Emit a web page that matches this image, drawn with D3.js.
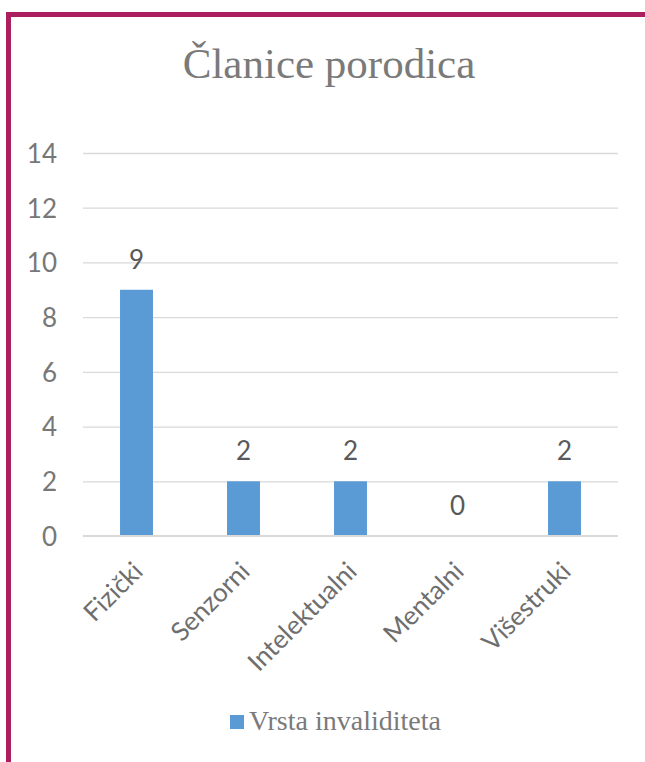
<!DOCTYPE html>
<html>
<head>
<meta charset="utf-8">
<script src="https://cdn.jsdelivr.net/npm/d3@7"></script>
<style>
  html, body { margin: 0; padding: 0; background: #fff; }
  svg { display: block; }
</style>
</head>
<body>
<svg id="chart" width="645" height="762"></svg>
<script>
const title = "Članice porodica";
const categories = ["Fizički", "Senzorni", "Intelektualni", "Mentalni", "Višestruki"];
const values = [9, 2, 2, 0, 2];
const seriesName = "Vrsta invaliditeta";
const yTicks = [0, 2, 4, 6, 8, 10, 12, 14];

const svg = d3.select("#chart");
const W = 645, H = 762;
const plot = { left: 83, right: 618, top: 153, bottom: 536 };
const sans = "Lato, 'Open Sans', sans-serif";
const serif = "'Liberation Serif', 'Times New Roman', serif";

svg.append("rect").attr("width", W).attr("height", H).attr("fill", "#fff");

// border (left + top)
svg.append("path")
  .attr("d", `M8.5,${H} L8.5,14.4 L${W + 5},14.4`)
  .attr("fill", "none").attr("stroke", "#ab1f5f").attr("stroke-width", 5);

const x = d3.scaleBand().domain(categories).range([plot.left, plot.right])
  .paddingInner(0.692).paddingOuter(0.346);
const y = d3.scaleLinear().domain([0, 14]).range([plot.bottom, plot.top]);

// gridlines
const grid = svg.append("g").attr("transform", `translate(${plot.left},0)`)
  .call(d3.axisLeft(y).tickValues(yTicks.filter(d => d > 0)).tickSize(-(plot.right - plot.left)).tickFormat(""));
grid.select(".domain").remove();
grid.selectAll("line").attr("stroke", "#d9d9d9").attr("stroke-width", 1.3);

// tick labels
const yax = svg.append("g").attr("transform", `translate(57,0)`)
  .call(d3.axisLeft(y).tickValues(yTicks).tickSize(0).tickPadding(0));
yax.select(".domain").remove();
yax.selectAll("text").attr("font-family", sans).attr("font-size", 26).attr("fill", "#777777")
  .attr("dy", "0.36em");

// bars
svg.append("g").selectAll("rect").data(categories).join("rect")
  .attr("x", d => x(d)).attr("width", x.bandwidth())
  .attr("y", (d, i) => y(values[i])).attr("height", (d, i) => y(0) - y(values[i]))
  .attr("fill", "#5b9bd5");

// x axis line
const xax = svg.append("g").attr("transform", `translate(0,${plot.bottom})`)
  .call(d3.axisBottom(x).tickSize(0).tickFormat(""));
xax.select(".domain").attr("d", `M${plot.left},0H${plot.right}`).attr("stroke", "#d9d9d9").attr("stroke-width", 2);

// category labels
svg.append("g").selectAll("text").data(categories).join("text")
  .attr("transform", d => `translate(${x(d) + x.bandwidth() / 2 + 8},${plot.bottom + 37}) rotate(-45)`)
  .attr("text-anchor", "end")
  .attr("font-family", sans).attr("font-size", 26).attr("fill", "#6e6e6e")
  .text(d => d);

// data labels
svg.append("g").selectAll("text").data(categories).join("text")
  .attr("x", d => x(d) + x.bandwidth() / 2)
  .attr("y", (d, i) => y(values[i]) - 21)
  .attr("text-anchor", "middle")
  .attr("font-family", sans).attr("font-size", 26).attr("fill", "#595959")
  .text((d, i) => values[i]);

// title
svg.append("text").attr("x", 329).attr("y", 78).attr("text-anchor", "middle")
  .attr("font-family", serif).attr("font-size", 43).attr("fill", "#7a7a7a")
  .text(title);

// legend
const lg = svg.append("g");
lg.append("rect").attr("x", 230).attr("y", 715).attr("width", 14).attr("height", 14).attr("fill", "#5b9bd5");
lg.append("text").attr("x", 249).attr("y", 730).attr("font-family", serif).attr("font-size", 28)
  .attr("fill", "#7a7a7a").text(seriesName);
</script>
</body>
</html>
